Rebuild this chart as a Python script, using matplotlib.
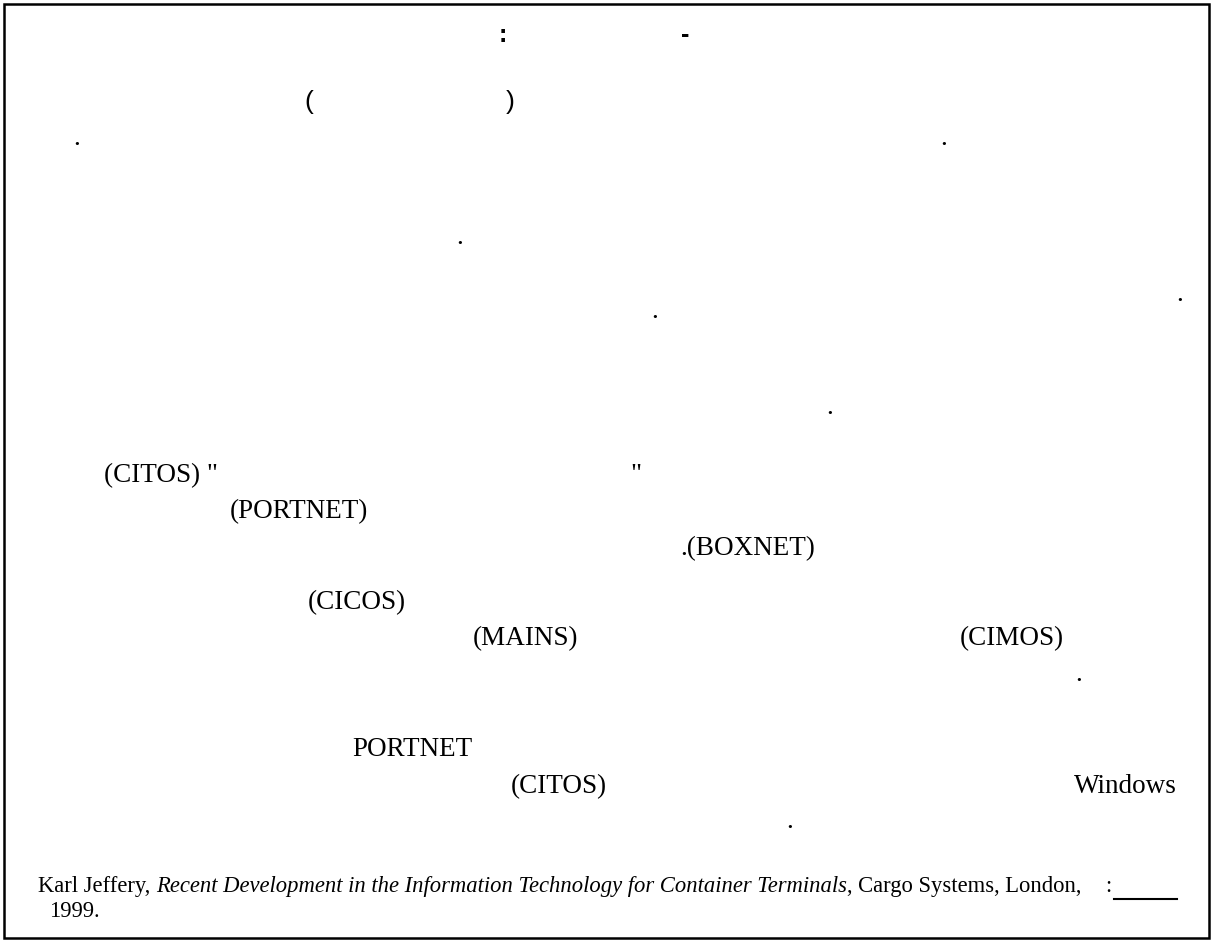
import matplotlib.pyplot as plt
from matplotlib.patches import Rectangle

# text fragments that survive on the page (Latin text and punctuation)
title_marks = [":", "-"]
bracket_marks = ["(", ")"]
body_lines = ["(CITOS) \"", "\"", "(PORTNET)", ".(BOXNET)", "(CICOS)",
              "(MAINS)", "(CIMOS)", "PORTNET", "(CITOS)", "Windows"]
dots = [".", ".", ".", ".", ".", ".", ".", ".", "."]
note_author = "Karl Jeffery, "
note_title = "Recent Development in the Information Technology for Container Terminals"
note_rest = ", Cargo Systems, London,"
note_year = "1999."

W, H = 1213, 943
fig = plt.figure(figsize=(W / 100, H / 100), dpi=100)
ax = fig.add_axes([0, 0, 1, 1])
ax.set_xlim(0, W)
ax.set_ylim(H, 0)
ax.axis("off")

ax.add_patch(Rectangle((4, 4), W - 8, H - 9, fill=False, lw=1.8, color="black"))

serif = "Liberation Serif"
sans = "Liberation Sans"
body_fs = 19.5
note_fs = 16.3

# title line
title_pos = [(503, 42), (685, 42)]
for s, (x, y) in zip(title_marks, title_pos):
    ax.text(x, y, s, fontsize=18, fontweight="bold", family=sans, ha="center", va="baseline")

bracket_pos = [(309, 109), (510, 109)]
for s, (x, y) in zip(bracket_marks, bracket_pos):
    ax.text(x, y, s, fontsize=19, family=sans, ha="center", va="baseline")

dot_pos = [(77, 145), (944, 145), (460, 244), (1180, 301), (655, 318),
           (830, 414), (1079, 681), (790, 828)]
for s, (x, y) in zip(dots, dot_pos):
    ax.text(x, y, s, fontsize=body_fs, family=serif, ha="center", va="baseline")

body_pos = [(104, 482), (630, 482), (230, 518), (680, 555), (308, 609),
            (473, 645), (960, 645), (352, 756), (511, 793), (1074, 793)]
for s, (x, y) in zip(body_lines, body_pos):
    ax.text(x, y, s, fontsize=body_fs, family=serif, ha="left", va="baseline")

# footnote
t1 = ax.text(38, 892, note_author, fontsize=note_fs, family=serif, va="baseline")
fig.canvas.draw()
r = fig.canvas.get_renderer()
x = ax.transData.inverted().transform(t1.get_window_extent(r))[1][0]
t2 = ax.text(x, 892, note_title, fontsize=note_fs, family=serif, style="italic", va="baseline")
x = ax.transData.inverted().transform(t2.get_window_extent(r))[1][0]
ax.text(x, 892, note_rest, fontsize=note_fs, family=serif, va="baseline")
ax.text(49, 917, note_year, fontsize=note_fs, family=serif, va="baseline")
ax.text(1108, 892, ":", fontsize=note_fs, family=serif, ha="center", va="baseline")
ax.plot([1114, 1177], [899, 899], color="black", lw=1.5)

fig.savefig("out.png", dpi=100)
